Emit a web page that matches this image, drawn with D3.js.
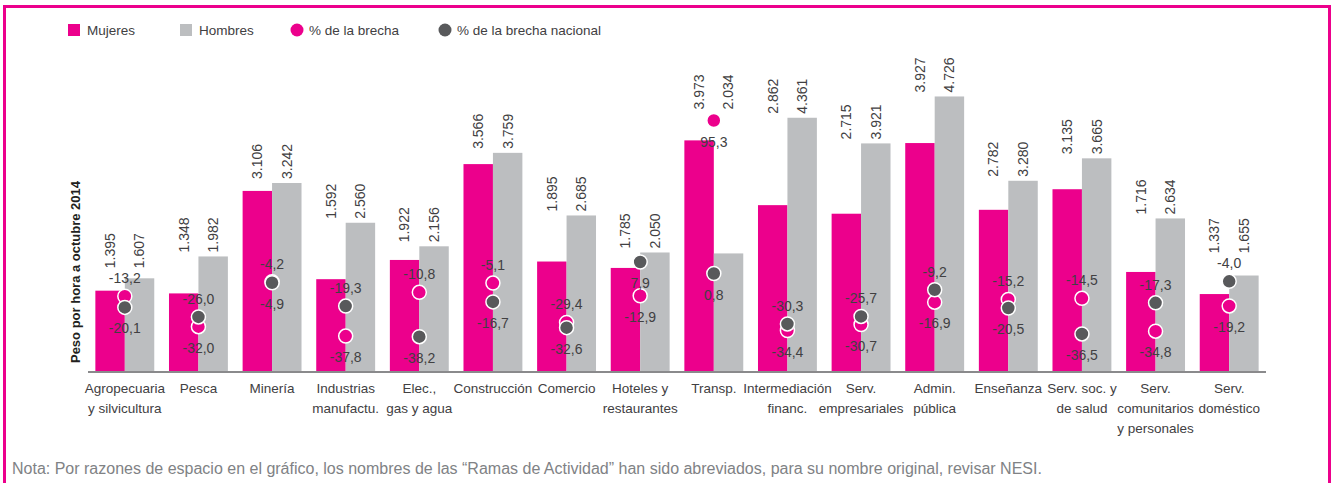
<!DOCTYPE html>
<html>
<head>
<meta charset="utf-8" />
<style>
  body { margin: 0; background: #ffffff; }
  text { font-family: "Liberation Sans", Arial, sans-serif; fill: #414042; }
  .note { fill: #808285; }
</style>
<script src="https://cdnjs.cloudflare.com/ajax/libs/d3/7.8.5/d3.min.js"></script>
</head>
<body>
<div id="graph"></div>
<script>
// ---- data ----
var categories = [
  ["Agropecuaria", "y silvicultura"], ["Pesca"], ["Minería"], ["Industrias", "manufactu."],
  ["Elec.,", "gas y agua"], ["Construcción"], ["Comercio"], ["Hoteles y", "restaurantes"],
  ["Transp."], ["Intermediación", "financ."], ["Serv.", "empresariales"], ["Admin.", "pública"],
  ["Enseñanza"], ["Serv. soc. y", "de salud"], ["Serv.", "comunitarios", "y personales"], ["Serv.", "doméstico"]
];
var mujeres = [1395, 1348, 3106, 1592, 1922, 3566, 1895, 1785, 3973, 2862, 2715, 3927, 2782, 3135, 1716, 1337];
var hombres = [1607, 1982, 3242, 2560, 2156, 3759, 2685, 2050, 2034, 4361, 3921, 4726, 3280, 3665, 2634, 1655];
var brecha = [-13.2, -32.0, -4.2, -37.8, -10.8, -5.1, -29.4, -12.9, 95.3, -34.4, -30.7, -16.9, -15.2, -14.5, -34.8, -19.2];
var brechaNacional = [-20.1, -26.0, -4.9, -19.3, -38.2, -16.7, -32.6, 7.9, 0.8, -30.3, -25.7, -9.2, -20.5, -36.5, -17.3, -4.0];
var legendItems = ["Mujeres", "Hombres", "% de la brecha", "% de la brecha nacional"];
var yTitle = "Peso por hora a octubre 2014";
var note = "Nota: Por razones de espacio en el gráfico, los nombres de las “Ramas de Actividad” han sido abreviados, para su nombre original, revisar NESI.";

(function () {
  var w = 1334, h = 483;
  var pink = "#ec008c", grey = "#bcbec0", dark = "#58595b";

  var locale = d3.formatLocale({ decimal: ",", thousands: ".", grouping: [3], currency: ["$", ""], minus: "-" });
  var fmtPeso = locale.format(",d");
  var fmtPct = locale.format(".1f");

  var svg = d3.select("#graph").append("svg")
    .attr("width", w).attr("height", h);

  // frame
  svg.append("rect")
    .attr("x", 4.5).attr("y", 6.5).attr("width", 1325).attr("height", 600)
    .attr("fill", "none").attr("stroke", pink).attr("stroke-width", 3);

  var idx = d3.range(categories.length);
  var x = d3.scaleBand().domain(idx).range([88, 1266]).paddingInner(0.2).paddingOuter(0.1);
  var x1 = d3.scaleBand().domain(["m", "h"]).range([0, x.bandwidth()]);
  var y = d3.scaleLinear().domain([0, 5000]).range([372, 80.5]);
  var y2 = d3.scaleLinear().domain([-60, 120]).range([372, 80.5]);
  var r = 7;

  var groups = svg.append("g").selectAll("g")
    .data(idx).enter().append("g")
    .attr("transform", d => "translate(" + x(d) + ",0)");

  groups.append("rect")
    .attr("x", x1("m")).attr("width", x1.bandwidth())
    .attr("y", d => y(mujeres[d])).attr("height", d => y(0) - y(mujeres[d]))
    .attr("fill", pink);
  groups.append("rect")
    .attr("x", x1("h")).attr("width", x1.bandwidth())
    .attr("y", d => y(hombres[d])).attr("height", d => y(0) - y(hombres[d]))
    .attr("fill", grey);

  // axis line
  svg.append("line")
    .attr("x1", 88).attr("x2", 1266).attr("y1", y(0)).attr("y2", y(0))
    .attr("stroke", "#8a8a8c").attr("stroke-width", 2);

  // circles: pink first, dark on top
  var cx = x.bandwidth() / 2;
  groups.append("circle")
    .attr("cx", cx).attr("cy", d => y2(brecha[d])).attr("r", r)
    .attr("fill", pink).attr("stroke", "#fff").attr("stroke-width", 1.5);
  groups.append("circle")
    .attr("cx", cx).attr("cy", d => y2(brechaNacional[d])).attr("r", r)
    .attr("fill", dark).attr("stroke", "#fff").attr("stroke-width", 1.5);

  // label placement for the two points: the higher one above unless positive
  function above(d, v, other) {
    return v >= other && v <= 0;
  }
  function ptLabelY(d, v, other) {
    return above(d, v, other) ? y2(v) - 13 : y2(v) + 26;
  }
  groups.append("text")
    .attr("x", cx).attr("y", d => ptLabelY(d, brecha[d], brechaNacional[d]))
    .attr("text-anchor", "middle").style("font-size", "14px")
    .text(d => fmtPct(brecha[d]));
  groups.append("text")
    .attr("x", cx).attr("y", d => ptLabelY(d, brechaNacional[d], brecha[d]))
    .attr("text-anchor", "middle").style("font-size", "14px")
    .text(d => fmtPct(brechaNacional[d]));

  // bar value labels, rotated, stacked above whatever is highest in the group
  function labelBase(d) {
    var tops = [y(mujeres[d]), y(hombres[d]), y2(brecha[d]) - r, y2(brechaNacional[d]) - r];
    if (above(d, brecha[d], brechaNacional[d])) tops.push(y2(brecha[d]) - 24);
    if (above(d, brechaNacional[d], brecha[d])) tops.push(y2(brechaNacional[d]) - 24);
    return d3.min(tops) - 4;
  }
  [["m", mujeres], ["h", hombres]].forEach(function (s) {
    groups.append("text")
      .attr("transform", d => "translate(" + (x1(s[0]) + x1.bandwidth() / 2) + "," + labelBase(d) + ") rotate(-90)")
      .attr("dy", "0.35em").style("font-size", "14px")
      .text(d => fmtPeso(s[1][d]));
  });

  // category labels
  var cat = svg.append("g").selectAll("text")
    .data(idx).enter().append("text")
    .attr("text-anchor", "middle").style("font-size", "13.5px")
    .attr("x", d => x(d) + x.bandwidth() / 2).attr("y", 393);
  cat.selectAll("tspan")
    .data(d => categories[d].map(t => ({ t: t, x: x(d) + x.bandwidth() / 2 })))
    .enter().append("tspan")
    .attr("x", t => t.x).attr("dy", (t, i) => i ? 20 : 0)
    .text(t => t.t);

  // y title
  svg.append("text")
    .attr("transform", "translate(79.5,272) rotate(-90)")
    .attr("text-anchor", "middle").style("font-size", "13px").style("font-weight", "bold")
    .style("fill", "#231f20")
    .text(yTitle);

  // legend
  var lx = [68, 180, 297, 445];
  var legend = svg.append("g");
  legendItems.forEach(function (name, i) {
    if (i < 2) {
      legend.append("rect").attr("x", lx[i]).attr("y", 24).attr("width", 12).attr("height", 12)
        .attr("fill", i === 0 ? pink : grey);
      legend.append("text").attr("x", lx[i] + 19).attr("y", 35).style("font-size", "13.5px").text(name);
    } else {
      legend.append("circle").attr("cx", lx[i]).attr("cy", 30).attr("r", 6.5)
        .attr("fill", i === 2 ? pink : dark);
      legend.append("text").attr("x", lx[i] + 12).attr("y", 35).style("font-size", "13.5px").text(name);
    }
  });

  // note
  svg.append("text").attr("class", "note")
    .attr("x", 12).attr("y", 474).style("font-size", "16px")
    .text(note);
})();
</script>
</body>
</html>
